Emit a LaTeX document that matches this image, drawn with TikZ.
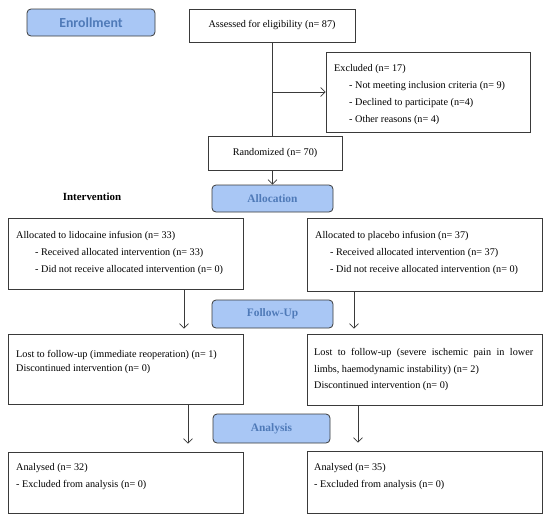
\documentclass[tikz,border=0pt]{standalone}
\usepackage{fontspec}
\setmainfont{Liberation Serif}
\newfontfamily\carlito{Carlito}
\usetikzlibrary{arrows.meta}
\definecolor{stagefill}{HTML}{A9C7F5}
\definecolor{stagetext}{HTML}{4F7AB8}
\definecolor{edgegray}{HTML}{3A3A3A}
\begin{document}
\begin{tikzpicture}[x=1pt,y=-1pt,
 box/.style={draw=edgegray, line width=0.8pt, fill=white, inner sep=0pt},
 stage/.style={draw=edgegray, line width=0.8pt, fill=stagefill, rounded corners=4pt, text=stagetext, font=\fontsize{11.4}{13}\selectfont\bfseries, inner sep=0pt, minimum width=120pt, minimum height=28pt},
 txt/.style={anchor=north west, align=left, inner sep=0pt, font=\fontsize{10.2}{17}\selectfont},
 conn/.style={draw=edgegray, line width=0.7pt},
 arr/.style={draw=edgegray, line width=0.7pt, -{Straight Barb[length=4.5pt,width=9pt]}}]
\useasboundingbox (0,0) rectangle (550,520);
% stage labels
\node[stage, font=\carlito\fontsize{13.8}{15}\selectfont\bfseries, minimum width=128pt, minimum height=27pt] (enr) at (91,22.5) {Enrollment};
\node[stage, minimum width=121pt, minimum height=27pt] (alloc) at (272.5,198.5) {Allocation};
\node[stage, minimum width=121pt, minimum height=28pt] (fup) at (272.5,314) {Follow-Up};
\node[stage, minimum width=117pt, minimum height=29pt] (anal) at (271.5,428.5) {Analysis};
\node[inner sep=0pt, font=\fontsize{10.9}{12}\selectfont\bfseries] (interv) at (92,197) {Intervention};
% boxes
\node[box, minimum width=166pt, minimum height=33pt, font=\fontsize{10.2}{12}\selectfont] (assess) at (272,25.5) {Assessed for eligibility (n= 87)};
\node[box, minimum width=204pt, minimum height=80pt] (excl) at (428,92) {};
\node[box, minimum width=134pt, minimum height=34pt, font=\fontsize{10.2}{12}\selectfont] (rand) at (275,153) {Randomized (n= 70)};
\node[box, minimum width=235pt, minimum height=71pt] (lalloc) at (125.5,253.5) {};
\node[box, minimum width=235pt, minimum height=73pt] (ralloc) at (424.5,254.5) {};
\node[box, minimum width=235pt, minimum height=70pt] (lfu) at (125.5,369) {};
\node[box, minimum width=235pt, minimum height=71pt] (rfu) at (424.5,369.5) {};
\node[box, minimum width=235pt, minimum height=61pt] (lan) at (125.5,482.5) {};
\node[box, minimum width=235pt, minimum height=62pt] (ran) at (424.5,482) {};
% texts
\node[txt] (excltxt) at (334,64.5) {Excluded (n= 17)\\\hspace*{15pt}- Not meeting inclusion criteria (n= 9)\\\hspace*{15pt}- Declined to participate (n=4)\\\hspace*{15pt}- Other reasons (n= 4)};
\node[txt] (lalloctxt) at (16,231.5) {Allocated to lidocaine infusion (n= 33)\\\hspace*{19pt}- Received allocated intervention (n= 33)\\\hspace*{19pt}- Did not receive allocated intervention (n= 0)};
\node[txt] (ralloctxt) at (315,231.5) {Allocated to placebo infusion (n= 37)\\\hspace*{15pt}- Received allocated intervention (n= 37)\\\hspace*{15pt}- Did not receive allocated intervention (n= 0)};
\node[txt, font=\fontsize{10.2}{14}\selectfont] (lfutxt) at (16,350.5) {Lost to follow-up (immediate reoperation) (n= 1)\\Discontinued intervention (n= 0)};
\node[txt, font=\fontsize{10.2}{16.5}\selectfont] (rfutxt) at (314,348.5) {\makebox[219pt][s]{Lost to follow-up (severe ischemic pain in lower}\\limbs, haemodynamic instability) (n= 2)\\Discontinued intervention (n= 0)};
\node[txt] (lantxt) at (16,463.5) {Analysed (n= 32)\\- Excluded from analysis (n= 0)};
\node[txt] (rantxt) at (314,463.5) {Analysed (n= 35)\\- Excluded from analysis (n= 0)};
% connectors
\draw[conn] (assess.south) -- (assess.south |- rand.north);
\draw[arr] (assess.south |- excl.west) -- (excl.west);
\draw[arr] (rand.south -| alloc.north) -- (alloc.north);
\draw[arr, shorten >=5pt] ([xshift=58.5pt]lalloc.south) -- ([xshift=58.5pt]lfu.north);
\draw[arr, shorten >=5pt] ([xshift=-70.5pt]ralloc.south) -- ([xshift=-70.5pt]rfu.north);
\draw[arr, shorten >=8pt] ([xshift=62.5pt]lfu.south) -- ([xshift=62.5pt]lan.north);
\draw[arr, shorten >=8pt] ([xshift=-66.5pt]rfu.south) -- ([xshift=-66.5pt]ran.north);
\end{tikzpicture}
\end{document}
